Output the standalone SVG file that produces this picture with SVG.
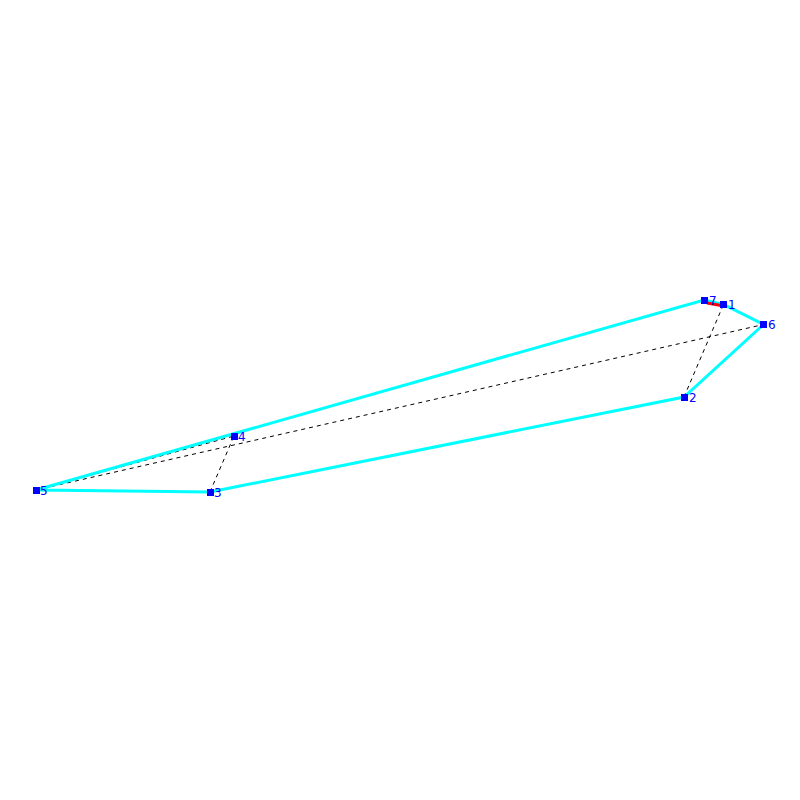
<svg xmlns="http://www.w3.org/2000/svg" width="800" height="800" viewBox="0 0 800 800">
<style>
.c{stroke:#00ffff;stroke-width:3;fill:none}
.d{stroke:#000;stroke-width:1;stroke-dasharray:4,4;fill:none}
.n{fill:#0000ff}
.t{font-family:"DejaVu Sans",sans-serif;font-size:12px;fill:#0000ff}
</style>
<rect width="800" height="800" fill="#fff"/>
<g id="connectors">
<line class="d" x1="36" y1="490" x2="763.5" y2="324.5"/>
<line class="d" x1="36" y1="490" x2="234" y2="436"/>
<line class="d" x1="210" y1="492" x2="234" y2="436"/>
<line class="d" x1="210" y1="492" x2="684" y2="397"/>
<line class="d" x1="684" y1="397" x2="723.5" y2="304.5"/>
<line class="d" x1="723.5" y1="304.5" x2="763.5" y2="324.5"/>
<polyline class="c" points="36,490 704,300 723.5,304.5 763.5,324.5 684,397 210,492 36,490"/>
<line x1="707" y1="303" x2="721" y2="305.5" stroke="#ff0000" stroke-width="3"/>
</g>
<g id="n1"><rect class="n" x="720" y="301" width="7" height="7"/><text class="t" x="728" y="309">1</text></g>
<g id="n2"><rect class="n" x="681" y="394" width="7" height="7"/><text class="t" x="689" y="402">2</text></g>
<g id="n3"><rect class="n" x="207" y="489" width="7" height="7"/><text class="t" x="214" y="497">3</text></g>
<g id="n4"><rect class="n" x="231" y="433" width="7" height="7"/><text class="t" x="238" y="441">4</text></g>
<g id="n5"><rect class="n" x="33" y="487" width="7" height="7"/><text class="t" x="40" y="495">5</text></g>
<g id="n6"><rect class="n" x="760" y="321" width="7" height="7"/><text class="t" x="768" y="329">6</text></g>
<g id="n7"><rect class="n" x="701" y="297" width="7" height="7"/><text class="t" x="709" y="305">7</text></g>
</svg>
